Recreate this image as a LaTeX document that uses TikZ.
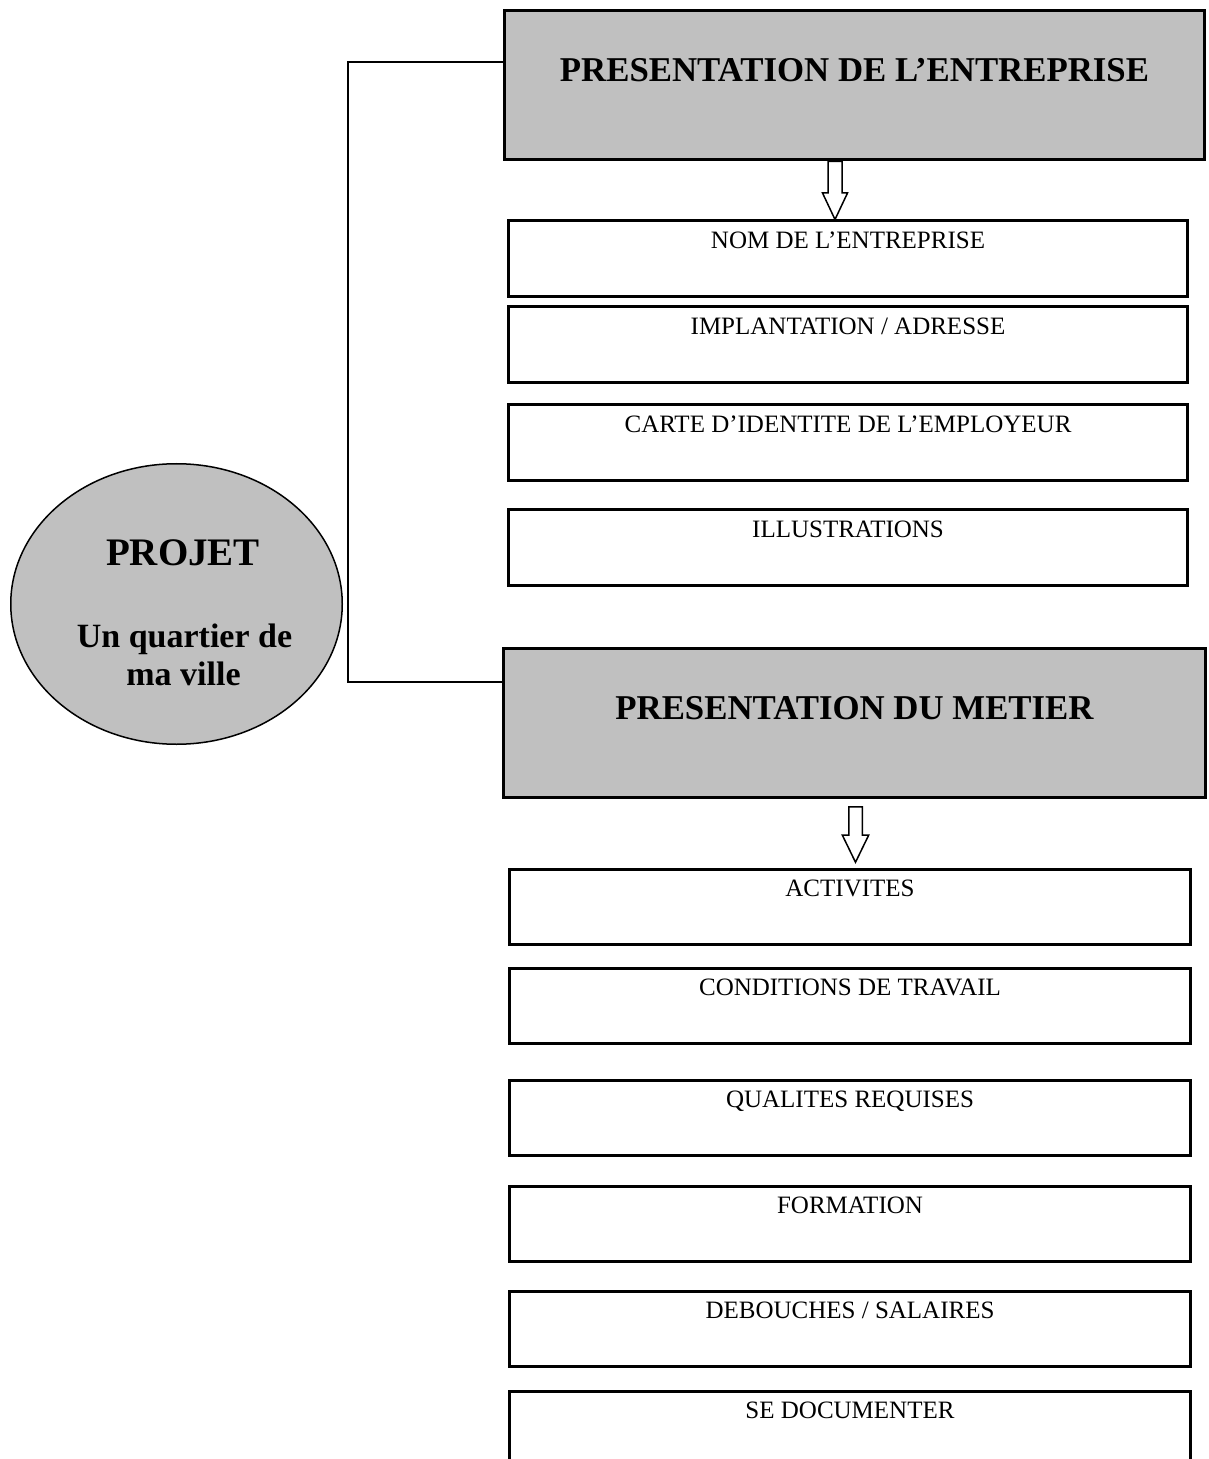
\documentclass[tikz,border=0pt]{standalone}
\usepackage{fontspec}
\setmainfont{Liberation Serif}
\usetikzlibrary{shapes.geometric,calc}
\definecolor{silver}{HTML}{C0C0C0}
\begin{document}
\begin{tikzpicture}[x=0.5pt,y=-0.5pt,
  titlebox/.style={draw,line width=1.5pt,fill=silver,inner xsep=0pt,inner ysep=0pt,
    font=\fontsize{17.4}{20}\selectfont\bfseries,anchor=north},
  itembox/.style={draw,line width=1.5pt,fill=white,inner xsep=0pt,inner ysep=0pt,
    text height=13.75pt,text depth=24pt,font=\fontsize{12.5}{14}\selectfont,anchor=north},
  itemA/.style={itembox,minimum width=339.5pt},
  itemB/.style={itembox,minimum width=340.5pt},
  hollowarrow/.style={draw,line width=0.75pt,fill=white,line join=miter},
  link/.style={line width=1.3pt},
  projtext/.style={font=\fontsize{17}{20}\selectfont\bfseries,anchor=base}]
\useasboundingbox (0,0) rectangle (1208,1459);

% left ellipse
\node[ellipse,draw,line width=0.75pt,fill=silver,minimum width=165.75pt,minimum height=140.25pt,inner sep=0pt] (proj) at (176.5,604) {};
\node[projtext,font=\fontsize{19.5}{22}\selectfont\bfseries] (pt1) at (183,565) {PROJET};
\node[projtext] (pt2) at (184.5,647) {Un quartier de};
\node[projtext] (pt3) at (183.5,685) {ma ville};

% title boxes
\node[titlebox,minimum width=350pt,text height=35.25pt,text depth=39.25pt] (g1) at (854.5,9.5) {PRESENTATION DE L’ENTREPRISE};
\node[titlebox,minimum width=351pt,text height=35.75pt,text depth=38.75pt] (g2) at (854.5,646.5) {PRESENTATION DU METIER};

% connector
\coordinate (c1) at (348,62);
\coordinate (c2) at (348,682);
\draw[link] (c1 -| g1.west) -- (c1) -- (c2) -- (c2 -| g2.west);

% group 1
\node[itemA] (nom) at (848,219.5) {NOM DE L’ENTREPRISE};
\node[itemA] (impl) at (848,305.5) {IMPLANTATION / ADRESSE};
\node[itemA] (carte) at (848,403.5) {CARTE D’IDENTITE DE L’EMPLOYEUR};
\node[itemA] (illu) at (848,508.5) {ILLUSTRATIONS};

% group 2
\node[itemB] (act) at (850,867.5) {ACTIVITES};
\node[itemB] (cond) at (850,966.5) {CONDITIONS DE TRAVAIL};
\node[itemB] (qual) at (850,1078.5) {QUALITES REQUISES};
\node[itemB] (form) at (850,1184.5) {FORMATION};
\node[itemB] (deb) at (850,1289.5) {DEBOUCHES / SALAIRES};
\node[itemB,text depth=80pt] (sedoc) at (850,1389.5) {SE DOCUMENTER};

% hollow arrows
\path (g1.south) ++(-19.5,0) coordinate (a1);
\draw[hollowarrow] ($(a1)+(-7,0)$) -- ($(a1)+(-7,31.5)$) -- ($(a1)+(-12.5,31.5)$)
  -- ($(a1)+(0,58)$) -- ($(a1)+(12.5,31.5)$) -- ($(a1)+(7,31.5)$) -- ($(a1)+(7,0)$) -- cycle;
\path (g2.south) ++(1,8.25) coordinate (a2);
\draw[hollowarrow] ($(a2)+(-6.75,0)$) -- ($(a2)+(-6.75,28.25)$) -- ($(a2)+(-13.25,28.25)$)
  -- ($(a2)+(0,55.5)$) -- ($(a2)+(13.25,28.25)$) -- ($(a2)+(6.75,28.25)$) -- ($(a2)+(6.75,0)$) -- cycle;
\end{tikzpicture}
\end{document}
